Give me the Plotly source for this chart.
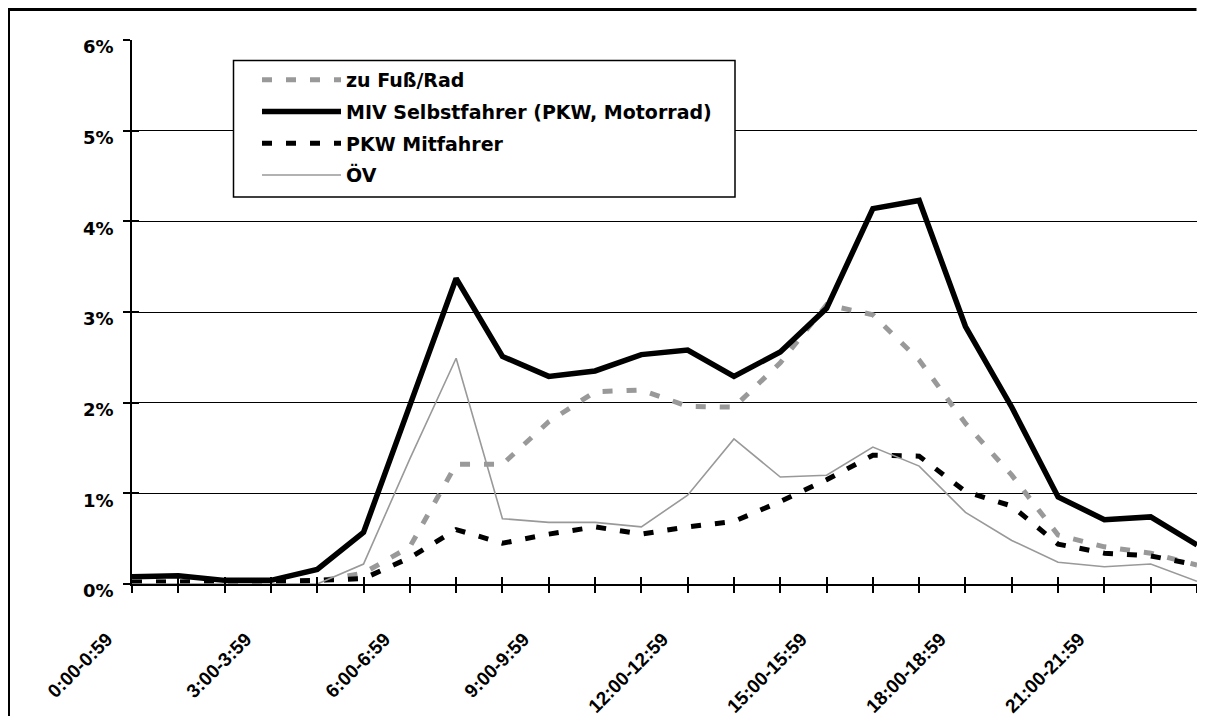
import plotly.graph_objects as go

hours = [f"{h}:00-{h}:59" for h in range(24)]

fuss_rad = [0.02, 0.02, 0.02, 0.02, 0.03, 0.12, 0.41, 1.32, 1.32, 1.79, 2.12, 2.14,
            1.96, 1.95, 2.44, 3.08, 2.97, 2.47, 1.77, 1.20, 0.54, 0.41, 0.34, 0.21]
miv_selbst = [0.08, 0.09, 0.04, 0.04, 0.16, 0.57, 1.97, 3.37, 2.51, 2.29, 2.35, 2.53,
              2.58, 2.29, 2.56, 3.04, 4.14, 4.23, 2.84, 1.95, 0.96, 0.71, 0.74, 0.43]
pkw_mit = [0.02, 0.02, 0.03, 0.03, 0.04, 0.06, 0.29, 0.60, 0.45, 0.55, 0.63, 0.55,
           0.63, 0.69, 0.91, 1.15, 1.42, 1.41, 1.02, 0.86, 0.44, 0.34, 0.31, 0.21]
oev = [0.0, 0.0, 0.0, 0.0, 0.0, 0.22, 1.38, 2.49, 0.72, 0.68, 0.68, 0.63,
       0.98, 1.60, 1.18, 1.20, 1.51, 1.30, 0.79, 0.48, 0.24, 0.19, 0.22, 0.03]

names = ["zu Fuß/Rad", "MIV Selbstfahrer (PKW, Motorrad)", "PKW Mitfahrer", "ÖV"]
y_ticks = [0, 1, 2, 3, 4, 5, 6]
y_ticktext = [f"{v}%" for v in y_ticks]

GRAY = "#999999"
LBL = dict(family="DejaVu Sans", size=18, color="black", weight="bold")
LEG = dict(family="DejaVu Sans", size=19, color="black", weight="bold")
XLBL = dict(family="Liberation Sans", size=19, color="black", weight=700)

# page geometry (the page adds an 8px body margin)
OFF = 8
FW, FH = 1205 - 2 * OFF, 724 - 2 * OFF
PL, PR, PT, PB = 132, 1197, 40, 584   # plot area in page pixels
PW, PH = PR - PL, PB - PT


def px(xp):
    return (xp - PL) / PW


def py(yp):
    return (PB - yp) / PH


fig = go.Figure()
series = [
    (names[0], fuss_rad, dict(color=GRAY, width=5, dash="10px,14px")),
    (names[1], miv_selbst, dict(color="black", width=5.5)),
    (names[2], pkw_mit, dict(color="black", width=5, dash="10px,14px")),
    (names[3], oev, dict(color=GRAY, width=1.6)),
]
for i, (n, vals, ln) in enumerate(series):
    fig.add_trace(go.Scatter(x=hours, y=vals, name=n, mode="lines", line=ln,
                             legendgroup=f"g{i}", hoverinfo="skip"))

# helper trace for the inner half of the tick marks
fig.add_trace(go.Scatter(x=hours, y=[None] * len(hours), xaxis="x2", yaxis="y2",
                         showlegend=False, hoverinfo="skip", mode="lines"))

ticktext = [h if i % 3 == 0 else "" for i, h in enumerate(hours)]

fig.update_layout(
    width=FW, height=FH,
    margin=dict(l=PL - OFF, r=FW - (PR - OFF), t=PT - OFF, b=FH - (PB - OFF)),
    paper_bgcolor="white", plot_bgcolor="white",
    showlegend=True,
    legend=dict(
        x=px(257), y=py(61), xanchor="left", yanchor="top",
        bgcolor="rgba(0,0,0,0)", borderwidth=0,
        font=LEG, itemwidth=79, traceorder="grouped", tracegroupgap=4,
    ),
    xaxis=dict(
        type="category", categoryorder="array", categoryarray=hours,
        range=[0, len(hours) - 1],
        tickmode="array", tickvals=hours, ticktext=ticktext,
        tickangle=-45, tickfont=XLBL,
        ticks="outside", ticklen=7, tickwidth=1.5, tickcolor="black",
        showline=True, linecolor="black", linewidth=1.5,
        showgrid=False, zeroline=False,
        ticklabelstandoff=28, ticklabelshift=-25,
    ),
    yaxis=dict(
        range=[0, 6], tickmode="array", tickvals=y_ticks, ticktext=y_ticktext,
        tickfont=LBL,
        ticks="outside", ticklen=7, tickwidth=1.5, tickcolor="black",
        showline=True, linecolor="black", linewidth=1.5,
        showgrid=True, gridcolor="black", gridwidth=1.2, zeroline=False,
        ticklabelstandoff=6, ticklabelshift=7,
    ),
    xaxis2=dict(
        overlaying="x", anchor="y2", type="category", categoryorder="array",
        categoryarray=hours, range=[0, len(hours) - 1],
        tickmode="array", tickvals=hours, showticklabels=False,
        ticks="inside", ticklen=7, tickwidth=1.5, tickcolor="black",
        showline=False, showgrid=False, zeroline=False,
    ),
    yaxis2=dict(
        overlaying="y", anchor="x2", range=[0, 6], tickmode="array", tickvals=y_ticks,
        showticklabels=False,
        ticks="inside", ticklen=7, tickwidth=1.5, tickcolor="black",
        showline=False, showgrid=False, zeroline=False,
    ),
    shapes=[
        # outer frame: top and left edges (right/bottom lie outside the picture)
        dict(type="line", xref="paper", yref="paper",
             x0=px(7), x1=px(1196.5), y0=py(9.5), y1=py(9.5),
             line=dict(color="black", width=3), layer="above"),
        dict(type="line", xref="paper", yref="paper",
             x0=px(8.5), x1=px(8.5), y0=py(8), y1=py(730),
             line=dict(color="black", width=3), layer="above"),
        dict(type="rect", xref="paper", yref="paper",
             x0=px(233.5), x1=px(735), y0=py(197), y1=py(60.5),
             line=dict(color="black", width=1.5), fillcolor="white", layer="above"),
    ],
)

fig.write_html("out.html")
